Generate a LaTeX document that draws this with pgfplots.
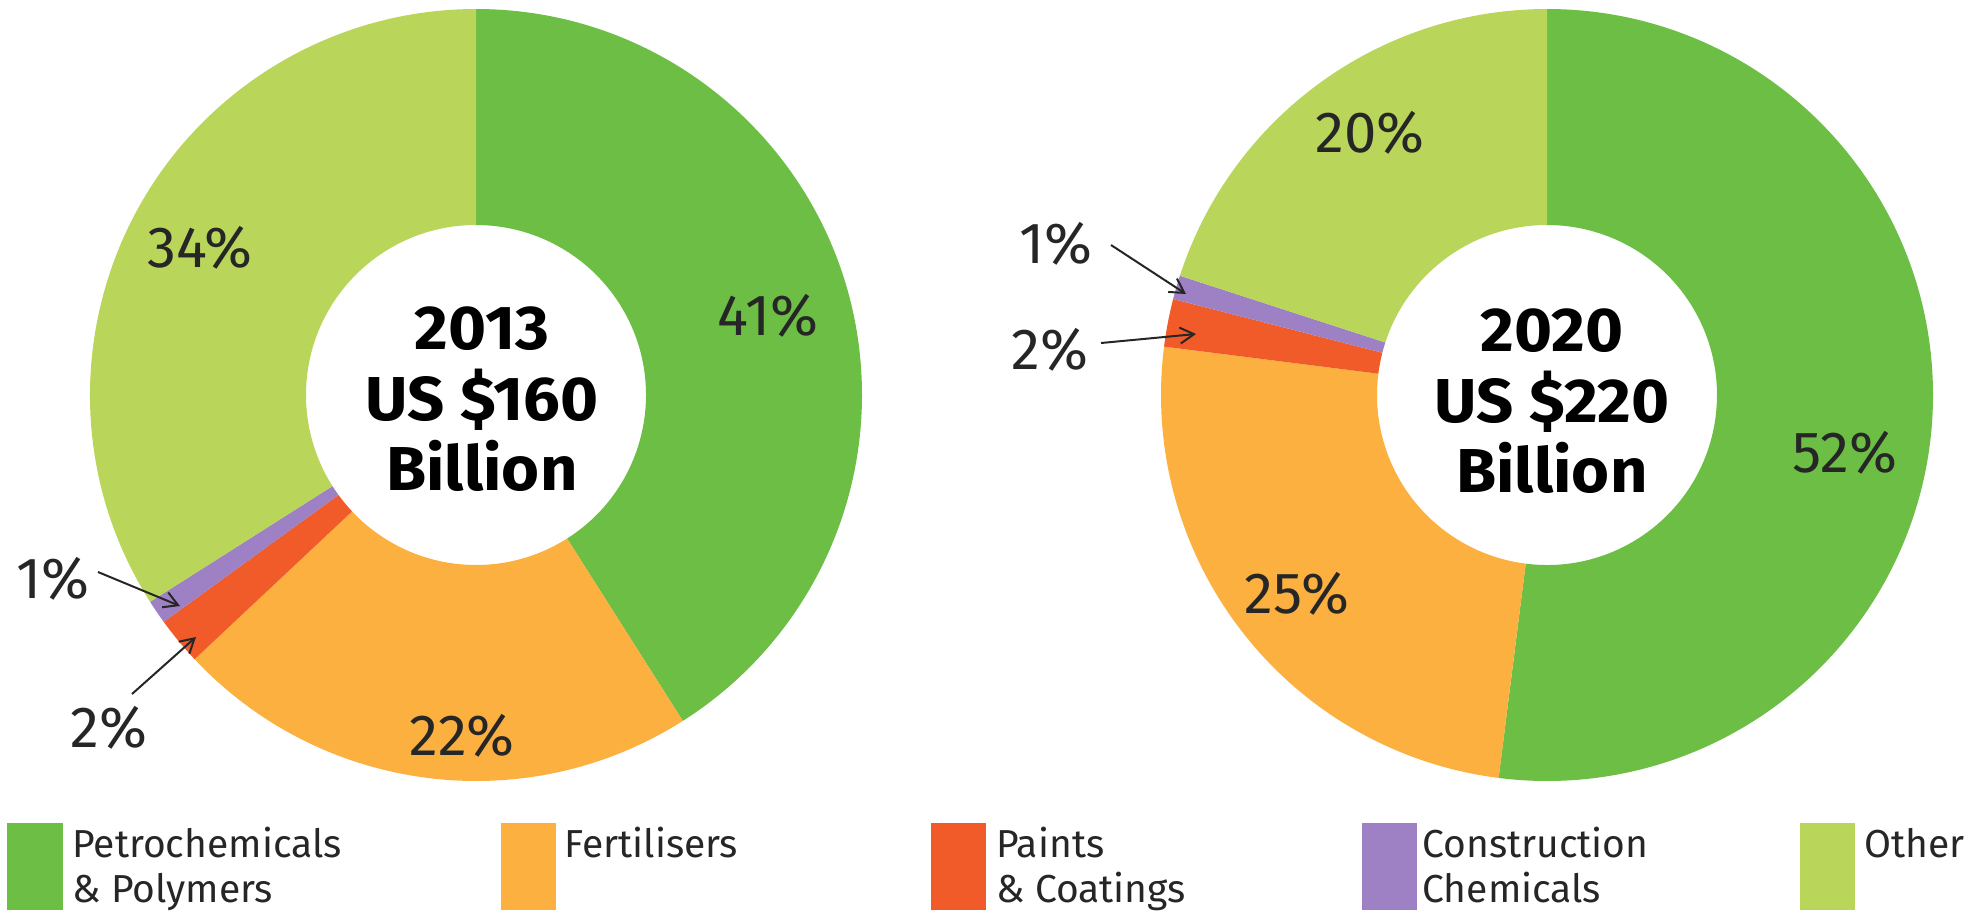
\documentclass[border=0pt]{standalone}
\usepackage{pgfplots}
\usepackage{pgfplotstable}
\pgfplotsset{compat=1.18}
\usetikzlibrary{calc,arrows.meta}
\usepackage{fontspec}
\setmainfont{Fira Sans}
\newfontfamily\centerfont{Fira Sans}[FakeStretch=1.05]

\definecolor{col0}{HTML}{6CBE45}
\definecolor{col1}{HTML}{FBB040}
\definecolor{col2}{HTML}{F15A29}
\definecolor{col3}{HTML}{9E80C4}
\definecolor{col4}{HTML}{BAD65A}

\pgfplotstableread{
name p13 p20
Petro 41 52
Fert 22 25
Paint 2 2
Constr 1 1
Other 34 20
}\piedata

\newcommand\Ro{193pt}
\newcommand\Ri{85pt}
\newcommand\donut[3]{%
 \pgfplotsextra{%
  \xdef\cum{0}%
  \foreach \i in {0,...,4}{%
    \pgfplotstablegetelem{\i}{#3}\of\piedata
    \let\val\pgfplotsretval
    \pgfmathsetmacro\aA{90-3.6*\cum}%
    \pgfmathsetmacro\aB{90-3.6*(\cum+\val)}%
    \fill[col\i] (axis cs:#1,#2) ++(\aA:\Ro) arc[start angle=\aA,end angle=\aB,radius=\Ro]
       -- ($(axis cs:#1,#2)+(\aB:\Ri)$) arc[start angle=\aB,end angle=\aA,radius=\Ri] -- cycle;
    \pgfmathsetmacro\newcum{\cum+\val}%
    \xdef\cum{\newcum}%
  }%
 }%
}

\begin{document}
\begin{tikzpicture}
\begin{axis}[name=ax,
  width=988.5pt, height=456pt, scale only axis,
  xmin=0, xmax=1977, ymin=0, ymax=912, y dir=reverse,
  axis lines=none, ticks=none, clip=false]
\donut{476}{395}{p13}
\donut{1547}{395}{p20}

% center texts
\begin{scope}[every node/.style={font=\centerfont\fontsize{31}{34}\selectfont\bfseries, anchor=base, inner sep=0pt}]
\node at (axis cs:482,349) {2013};
\node at (axis cs:482,420) {US \$160};
\node at (axis cs:482,490) {Billion};
\node at (axis cs:1552,351) {2020};
\node at (axis cs:1552,422) {US \$220};
\node at (axis cs:1552,492) {Billion};
\end{scope}

% percent labels
\begin{scope}[every node/.style={font=\fontsize{29}{32}\selectfont, anchor=base, inner sep=0pt, text=black!85}]
\node at (axis cs:768,335) {41\%};
\node at (axis cs:200,267) {34\%};
\node at (axis cs:462,755) {22\%};
\node at (axis cs:53,598) {1\%};
\node at (axis cs:109,747) {2\%};
\node at (axis cs:1370,152) {20\%};
\node at (axis cs:1845,472) {52\%};
\node at (axis cs:1297,613) {25\%};
\node at (axis cs:1056,263) {1\%};
\node at (axis cs:1050,369) {2\%};
\end{scope}

% arrows
\begin{scope}[line width=1pt, black!85, -{Straight Barb[length=7pt,width=8pt]}]
\draw (axis cs:98,572) -- (axis cs:180,606);
\draw (axis cs:132,694) -- (axis cs:196,637);
\draw (axis cs:1111,245) -- (axis cs:1186,294);
\draw (axis cs:1101,343) -- (axis cs:1196,334);
\end{scope}

% legend
\fill[col0] (axis cs:7,823) rectangle (axis cs:63,910);
\fill[col1] (axis cs:501,823) rectangle (axis cs:556,910);
\fill[col2] (axis cs:931,823) rectangle (axis cs:986,910);
\fill[col3] (axis cs:1362,823) rectangle (axis cs:1417,910);
\fill[col4] (axis cs:1800,823) rectangle (axis cs:1855,910);
\begin{scope}[every node/.style={font=\fontsize{19.5}{22}\selectfont, anchor=base west, inner sep=0pt, text=black!85}]
\node at (axis cs:72,857) {Petrochemicals};
\node at (axis cs:72,902) {\& Polymers};
\node at (axis cs:564,857) {Fertilisers};
\node at (axis cs:996,857) {Paints};
\node at (axis cs:996,902) {\& Coatings};
\node at (axis cs:1422,857) {Construction};
\node at (axis cs:1422,902) {Chemicals};
\node at (axis cs:1864,857) {Other};
\end{scope}
\end{axis}
\pgfresetboundingbox
\path[use as bounding box] (ax.south west) rectangle (ax.north east);
\end{tikzpicture}
\end{document}
